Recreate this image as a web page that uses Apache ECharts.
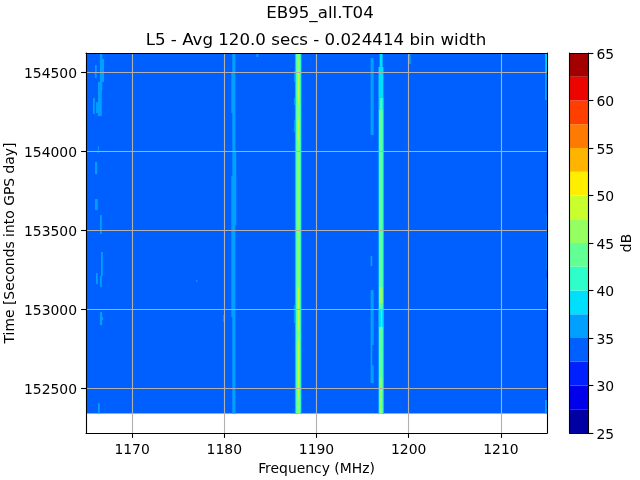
<!DOCTYPE html>
<html><head><meta charset="utf-8">
<style>html,body{margin:0;padding:0;background:#fff}#c{width:640px;height:480px}</style>
<script src="https://cdn.jsdelivr.net/npm/echarts@6/dist/echarts.min.js"></script></head>
<body><div id="c"></div>
<script>
const titleMain = 'EB95_all.T04';
const titleSub = 'L5 - Avg 120.0 secs - 0.024414 bin width';
const xTicks = [1170, 1180, 1190, 1200, 1210];
const yTicks = [152500, 153000, 153500, 154000, 154500];
const cbTicks = [25, 30, 35, 40, 45, 50, 55, 60, 65];
const levels = [25, 27.5, 30, 32.5, 35, 37.5, 40, 42.5, 45, 47.5, 50, 52.5, 55, 57.5, 60, 62.5, 65];
const levelColors = ['#0000a3','#0000ec','#0020ff','#0060ff','#00a0ff','#00dffc','#2effca','#62ff95','#95ff62','#caff2e','#ffee00','#ffb400','#ff7a00','#ff3f00','#ec0400','#a30000'];
const freqRange = [1165, 1215];
const timeRange = [152219, 154620];
// spans: [freqLow, freqHigh, timeLow, timeHigh] per dB level index
const floorSpan = [[1165, 1215, 152342, 154620]];
const spans35 = [
 [1166.52,1166.77,154500,154614],[1166.52,1166.96,154437,154582],[1165.98,1166.16,154462,154544],[1165.95,1166.0,154475,154500],
 [1166.3,1166.77,154386,154437],[1166.3,1166.71,154222,154386],[1166.09,1166.45,154241,154310],[1165.76,1165.95,154235,154336],
 [1166.3,1166.38,153988,154032],[1165.98,1166.2,153855,153931],[1165.98,1166.27,153628,153697],[1166.52,1166.71,153476,153596],
 [1166.63,1166.82,153211,153362],[1166.09,1166.27,153160,153230],[1166.52,1166.71,153141,153211],
 [1176.96,1177.07,153173,153186],[1166.52,1166.74,152901,152983],[1166.74,1166.85,152933,152952],[1166.3,1166.49,152342,152408],
 [1179.89,1180.03,152920,152964],
 [1180.87,1181.2,154500,154620],[1180.76,1181.2,154241,154500],[1180.87,1181.2,153994,154241],[1180.87,1181.3,153843,153994],
 [1180.76,1181.3,153533,153843],[1180.76,1181.2,152952,153533],[1180.87,1181.2,152342,152952],[1183.48,1183.7,154595,154614],
 [1187.65,1188.37,152342,154620],[1187.55,1187.7,154437,154506],[1187.55,1187.7,154291,154336],[1187.55,1187.7,154121,154197],[1187.55,1187.7,152914,153027],
 [1195.87,1196.2,154102,154588],[1195.87,1196.05,153274,153337],[1195.87,1196.2,152775,153122],[1195.87,1196.05,152648,152775],[1195.87,1196.2,152535,152648],
 [1196.74,1197.28,152342,154532],
 [1200.0,1200.22,154550,154614],[1199.95,1200.0,154159,154367],[1199.95,1200.0,153754,153919],
 [1214.78,1215,154323,154620],[1214.95,1215,154000,154323],[1214.95,1215,153250,153600],[1214.95,1215,153050,153200],[1214.78,1215,152342,152427]
];
const spans375 = [
 [1187.72,1188.34,152342,154620],
 [1196.85,1197.17,154532,154620],[1196.74,1197.23,154336,154532],[1196.74,1197.28,152342,154336],
 [1214.85,1215,154500,154620]
];
const spans40 = [
 [1187.77,1188.28,152342,154620],
 [1196.9,1197.17,154260,154336],[1196.79,1197.23,152996,154260],[1197.0,1197.1,152889,152996],[1196.79,1197.23,152342,152889]
];
const spans425 = [
 [1187.83,1188.24,152342,154620],
 [1196.96,1197.07,154260,154323],[1196.82,1197.14,152996,154260],[1196.82,1197.14,152342,152889]
];
const spans45 = [
 [1187.92,1188.18,152342,154620],
 [1196.85,1197.17,153040,153141],[1196.9,1197.12,152342,152572]
];
const spans475 = [
 [1187.92,1188.12,154070,154197],[1187.97,1188.12,152870,153141],[1187.97,1188.1,152450,152806],[1188.0,1188.1,154300,154500]
];
const spansByLevel = [[3, floorSpan],[4, spans35],[5, spans375],[6, spans40],[7, spans425],[8, spans45],[9, spans475]];

const fieldData = [];
spansByLevel.forEach(([lv, list]) => list.forEach(s => fieldData.push([s[0], s[1], s[2], s[3], lv])));
const cbData = levelColors.map((c, i) => [levels[i], levels[i + 1], i]);

const font = 'DejaVu Sans';
const tickStyle = {show: true, length: 4.9, inside: false, lineStyle: {color: '#000', width: 1.1}};
const labelStyle = {color: '#000', fontFamily: font, fontSize: 13.9};
const plain = v => String(v);
const nudged = v => '{n|' + v + '}';
const nudgeRich = {n: {color: '#000', fontFamily: font, fontSize: 13.9, padding: [4, 0, 0, 0]}};

const chart = echarts.init(document.getElementById('c'), null, {renderer: 'canvas'});
chart.setOption({
  animation: false,
  backgroundColor: '#fff',
  title: [
    {text: titleMain, left: 315, top: 0, textAlign: 'center', textStyle: {fontFamily: font, fontSize: 16.67, fontWeight: 'normal', color: '#000'}},
    {text: titleSub, left: 311, top: 27, textAlign: 'center', textStyle: {fontFamily: font, fontSize: 16.67, fontWeight: 'normal', color: '#000'}}
  ],
  grid: [
    {left: 86, top: 53, width: 461, height: 380, show: false, outerBoundsMode: 'none'},
    {left: 569.5, top: 53, width: 19, height: 380, show: false, outerBoundsMode: 'none'}
  ],
  xAxis: [
    {type: 'value', gridIndex: 0, min: freqRange[0], max: freqRange[1], position: 'bottom', z: 10,
     name: 'Frequency (MHz)', nameLocation: 'middle', nameGap: 29, nameTextStyle: labelStyle,
     axisLine: {onZero: false, lineStyle: {color: '#000', width: 1.1}},
     axisTick: Object.assign({customValues: xTicks}, tickStyle),
     axisLabel: Object.assign({customValues: xTicks, margin: 10, formatter: plain}, labelStyle),
     splitLine: {show: true, lineStyle: {color: '#b0b0b0', width: 1.1}}},
    {type: 'value', gridIndex: 0, min: freqRange[0], max: freqRange[1], position: 'top', z: 10,
     axisLine: {onZero: false, lineStyle: {color: '#000', width: 1.1}},
     axisTick: {show: false}, axisLabel: {show: false}, splitLine: {show: false}},
    {type: 'value', gridIndex: 1, min: 0, max: 1, position: 'bottom', z: 10,
     axisLine: {onZero: false, lineStyle: {color: '#000', width: 1.1}},
     axisTick: {show: false}, axisLabel: {show: false}, splitLine: {show: false}},
    {type: 'value', gridIndex: 1, min: 0, max: 1, position: 'top', z: 10,
     axisLine: {onZero: false, lineStyle: {color: '#000', width: 1.1}},
     axisTick: {show: false}, axisLabel: {show: false}, splitLine: {show: false}}
  ],
  yAxis: [
    {type: 'value', gridIndex: 0, min: timeRange[0], max: timeRange[1], position: 'left', z: 10,
     name: 'Time [Seconds into GPS day]', nameLocation: 'middle', nameGap: 69, nameRotate: 90, nameMoveOverlap: false, nameTextStyle: labelStyle,
     axisLine: {onZero: false, lineStyle: {color: '#000', width: 1.1}},
     axisTick: Object.assign({customValues: yTicks}, tickStyle),
     axisLabel: Object.assign({customValues: yTicks, margin: 9, formatter: nudged, rich: nudgeRich}, labelStyle),
     splitLine: {show: true, lineStyle: {color: '#b0b0b0', width: 1.1}}},
    {type: 'value', gridIndex: 0, min: timeRange[0], max: timeRange[1], position: 'right', z: 10,
     axisLine: {onZero: false, lineStyle: {color: '#000', width: 1.1}},
     axisTick: {show: false}, axisLabel: {show: false}, splitLine: {show: false}},
    {type: 'value', gridIndex: 1, min: 25, max: 65, position: 'right', z: 10,
     name: 'dB', nameLocation: 'middle', nameGap: 31.5, nameRotate: 90, nameMoveOverlap: false, nameTextStyle: labelStyle,
     axisLine: {onZero: false, lineStyle: {color: '#000', width: 1.1}},
     axisTick: Object.assign({customValues: cbTicks}, tickStyle),
     axisLabel: Object.assign({customValues: cbTicks, margin: 8, formatter: nudged, rich: nudgeRich}, labelStyle),
     splitLine: {show: false}},
    {type: 'value', gridIndex: 1, min: 25, max: 65, position: 'left', z: 10,
     axisLine: {onZero: false, lineStyle: {color: '#000', width: 1.1}},
     axisTick: {show: false}, axisLabel: {show: false}, splitLine: {show: false}}
  ],
  series: [
    {type: 'custom', xAxisIndex: 0, yAxisIndex: 0, data: fieldData, silent: true, clip: true,
     encode: {x: [0, 1], y: [2, 3]},
     renderItem(params, api) {
       const a = api.coord([api.value(0), api.value(3)]);
       const b = api.coord([api.value(1), api.value(2)]);
       return {type: 'rect', shape: {x: a[0], y: a[1], width: b[0] - a[0], height: b[1] - a[1]},
               style: {fill: levelColors[api.value(4)]}};
     }},
    {type: 'custom', xAxisIndex: 2, yAxisIndex: 2, data: cbData, silent: true,
     encode: {y: [0, 1]},
     renderItem(params, api) {
       const a = api.coord([0, api.value(1)]);
       const b = api.coord([1, api.value(0)]);
       return {type: 'rect', shape: {x: a[0], y: a[1], width: b[0] - a[0], height: b[1] - a[1]},
               style: {fill: levelColors[api.value(2)]}};
     }}
  ]
});
</script></body></html>
